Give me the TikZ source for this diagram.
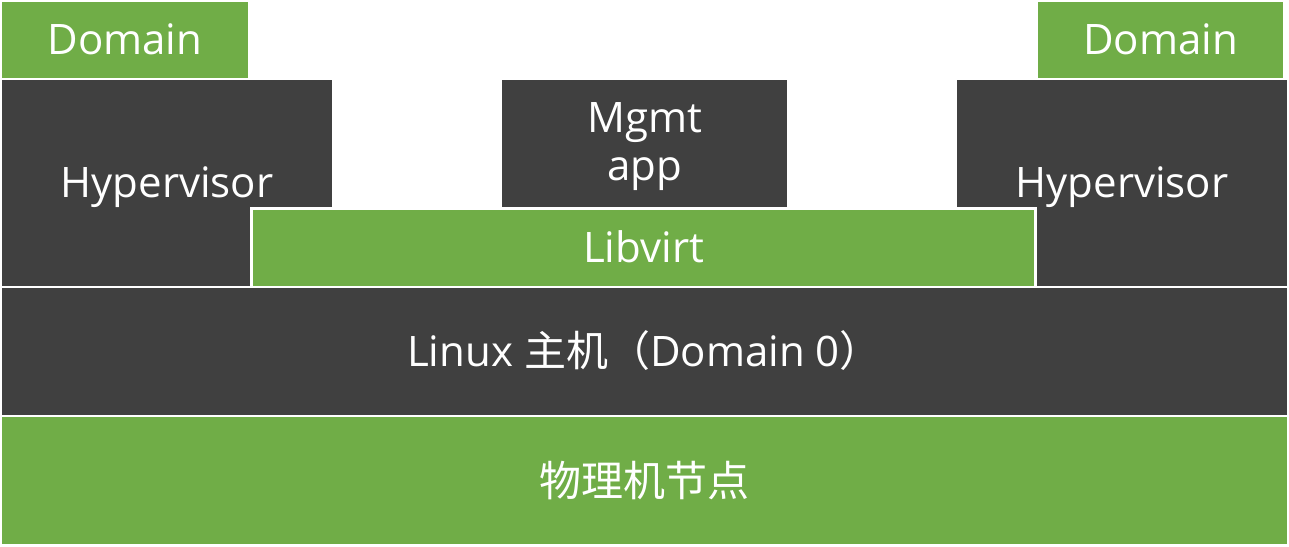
\documentclass[tikz,border=0pt]{standalone}
\usepackage{fontspec}
\setmainfont{Open Sans}
\newfontfamily\cjk{Noto Sans CJK SC}
\newfontfamily\lat{Open Sans}
\definecolor{vgreen}{HTML}{70AD47}
\definecolor{vgray}{HTML}{404040}
\begin{document}
\begin{tikzpicture}[x=1pt,y=-1pt,
  box/.style={inner sep=0pt, outer sep=0pt, anchor=north west, text=white, align=center,
    font=\lat\fontsize{42}{48}\selectfont},
  oneline/.style={text height=30pt, text depth=0pt},
  gbox/.style={box, fill=vgreen},
  dbox/.style={box, fill=vgray}]
\useasboundingbox (0,0) rectangle (1289,546);
\node[gbox, oneline, minimum width=246pt, minimum height=75.7pt] (domL) at (2,2) {Domain};
\node[gbox, oneline, minimum width=245pt, minimum height=75.7pt] (domR) at (1038,2) {Domain};
\node[dbox, oneline, minimum width=330pt, minimum height=205.7pt] (hypL) at (2,80) {Hypervisor};
\node[dbox, minimum width=285pt, minimum height=126.7pt] (mgmt) at (502,80) {};
\node[text=white, font=\lat\fontsize{42}{48}\selectfont, align=center, inner sep=0pt, yshift=-3pt] (mgmttext) at (mgmt.center) {Mgmt\\app};
\node[dbox, oneline, minimum width=330pt, minimum height=205.7pt] (hypR) at (957,80) {Hypervisor};
\node[gbox, oneline, draw=white, line width=3pt, minimum width=784pt, minimum height=78.5pt] (libvirt) at (251.5,208.5) {Libvirt};
\node[dbox, oneline, minimum width=1285pt, minimum height=126.7pt] (linux) at (2,288)
  {Linux {\cjk 主机（}Domain 0{\cjk ）}};
\node[gbox, minimum width=1285pt, minimum height=126.7pt, font=\cjk\fontsize{42}{48}\selectfont] (phys) at (2,417) {物理机节点};
\end{tikzpicture}
\end{document}
